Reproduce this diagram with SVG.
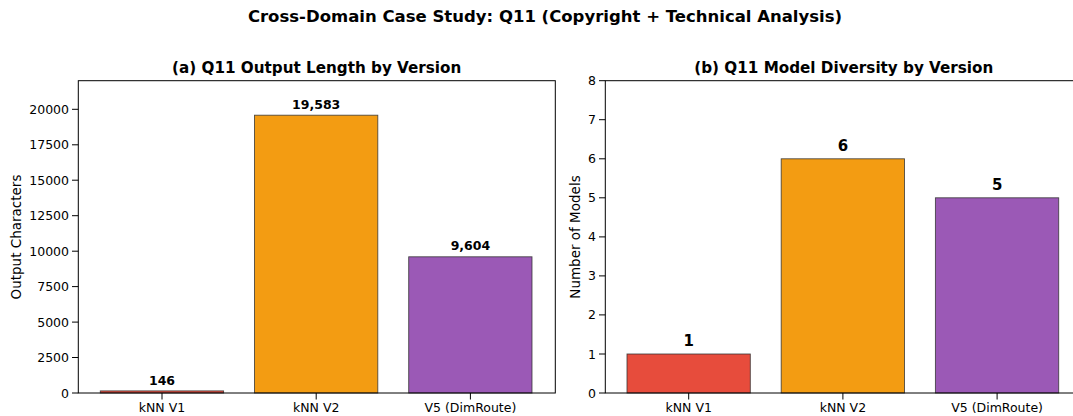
<svg xmlns="http://www.w3.org/2000/svg" width="1073" height="416" viewBox="0 0 1073 416">
<style>
text{font-family:"DejaVu Sans",sans-serif;fill:#000}
.tk{font-size:12.5px}
.yt{text-anchor:end;dominant-baseline:central}
.xt{text-anchor:middle}
.ttl{font-size:15.2px;font-weight:bold;text-anchor:middle}
.sup{font-size:16.5px;font-weight:bold;text-anchor:middle}
.val{font-size:12.5px;font-weight:bold;text-anchor:middle}
.valb{font-size:15px;font-weight:bold;text-anchor:middle}
.lab{font-size:13.5px;text-anchor:middle}
.bar{stroke:#333;stroke-opacity:0.85;stroke-width:0.9}
.spine{fill:none;stroke:#000;stroke-width:1}
.tick{stroke:#000;stroke-width:1}
</style>
<rect width="1073" height="416" fill="#fff"/>
<text class="sup" x="545" y="22">Cross-Domain Case Study: Q11 (Copyright + Technical Analysis)</text>

<g id="panel-a">
<text class="ttl" x="316.7" y="72.5">(a) Q11 Output Length by Version</text>
<g id="bars-a">
<rect class="bar" x="100.3" y="390.9" width="123.3" height="2.1" fill="#e74c3c"/>
<rect class="bar" x="254.5" y="115.2" width="123.3" height="277.8" fill="#f39c12"/>
<rect class="bar" x="408.7" y="256.8" width="123.3" height="136.2" fill="#9b59b6"/>
</g>
<rect class="spine" x="78.3" y="80.7" width="477" height="312.3"/>
<g id="yticks-a">
<path class="tick" d="M72 393H78.3M72 357.5H78.3M72 322.1H78.3M72 286.6H78.3M72 251.2H78.3M72 215.7H78.3M72 180.2H78.3M72 144.8H78.3M72 109.3H78.3"/>
<text class="tk yt" x="69" y="393">0</text>
<text class="tk yt" x="69" y="357.5">2500</text>
<text class="tk yt" x="69" y="322.1">5000</text>
<text class="tk yt" x="69" y="286.6">7500</text>
<text class="tk yt" x="69" y="251.2">10000</text>
<text class="tk yt" x="69" y="215.7">12500</text>
<text class="tk yt" x="69" y="180.2">15000</text>
<text class="tk yt" x="69" y="144.8">17500</text>
<text class="tk yt" x="69" y="109.3">20000</text>
</g>
<g id="xticks-a">
<path class="tick" d="M162 393V399.5M316.2 393V399.5M470.4 393V399.5"/>
<text class="tk xt" x="162" y="412">kNN V1</text>
<text class="tk xt" x="316.2" y="412">kNN V2</text>
<text class="tk xt" x="470.4" y="412">V5 (DimRoute)</text>
</g>
<text class="lab" transform="translate(21 237) rotate(-90)">Output Characters</text>
<text class="val" x="162" y="385">146</text>
<text class="val" x="316.2" y="108.5">19,583</text>
<text class="val" x="470.4" y="250">9,604</text>
</g>

<g id="panel-b">
<text class="ttl" x="843.8" y="72.5">(b) Q11 Model Diversity by Version</text>
<g id="bars-b">
<rect class="bar" x="627" y="354" width="123.3" height="39" fill="#e74c3c"/>
<rect class="bar" x="781.2" y="158.8" width="123.3" height="234.2" fill="#f39c12"/>
<rect class="bar" x="935.4" y="197.8" width="123.3" height="195.2" fill="#9b59b6"/>
</g>
<rect class="spine" x="605.3" y="80.7" width="477" height="312.3"/>
<g id="yticks-b">
<path class="tick" d="M599 393H605.3M599 354H605.3M599 314.9H605.3M599 275.9H605.3M599 236.9H605.3M599 197.8H605.3M599 158.8H605.3M599 119.7H605.3M599 80.7H605.3"/>
<text class="tk yt" x="596" y="393">0</text>
<text class="tk yt" x="596" y="354">1</text>
<text class="tk yt" x="596" y="314.9">2</text>
<text class="tk yt" x="596" y="275.9">3</text>
<text class="tk yt" x="596" y="236.9">4</text>
<text class="tk yt" x="596" y="197.8">5</text>
<text class="tk yt" x="596" y="158.8">6</text>
<text class="tk yt" x="596" y="119.7">7</text>
<text class="tk yt" x="596" y="80.7">8</text>
</g>
<g id="xticks-b">
<path class="tick" d="M688.7 393V399.5M842.9 393V399.5M997.1 393V399.5"/>
<text class="tk xt" x="688.7" y="412">kNN V1</text>
<text class="tk xt" x="842.9" y="412">kNN V2</text>
<text class="tk xt" x="997.1" y="412">V5 (DimRoute)</text>
</g>
<text class="lab" transform="translate(580 237) rotate(-90)">Number of Models</text>
<text class="valb" x="688.7" y="346">1</text>
<text class="valb" x="842.9" y="151">6</text>
<text class="valb" x="997.1" y="190">5</text>
</g>
</svg>
